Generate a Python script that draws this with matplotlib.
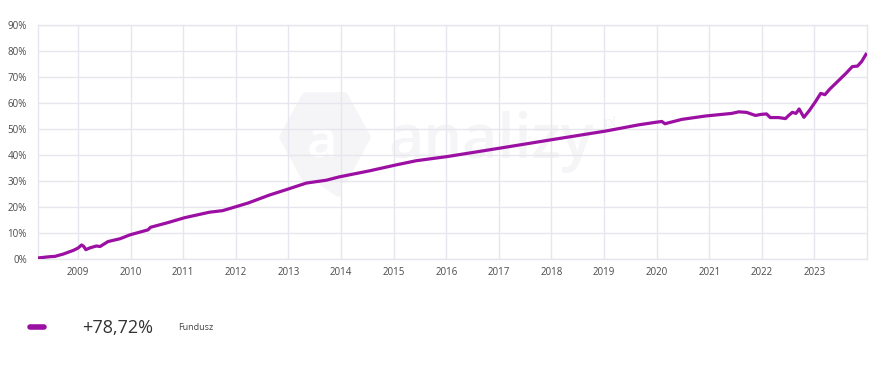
import matplotlib
matplotlib.use('Agg')
import matplotlib.pyplot as plt
from matplotlib.patches import Polygon
from matplotlib.transforms import Affine2D

# fund cumulative return (%), dates as decimal years
dates = [2008.24, 2008.47, 2008.56, 2008.72, 2008.91, 2009.00, 2009.07, 2009.11,
         2009.15, 2009.23, 2009.35, 2009.42, 2009.57, 2009.80, 2009.99, 2010.33,
         2010.38, 2010.71, 2011.03, 2011.50, 2011.75, 2012.00, 2012.23, 2012.64,
         2012.98, 2013.34, 2013.72, 2013.97, 2014.54, 2015.05, 2015.43, 2016.02,
         2017.01, 2018.01, 2019.03, 2019.66, 2019.99, 2020.10, 2020.16, 2020.21,
         2020.48, 2020.93, 2021.43, 2021.56, 2021.71, 2021.88, 2021.98, 2022.09,
         2022.16, 2022.32, 2022.45, 2022.51, 2022.58, 2022.65, 2022.71, 2022.80,
         2022.90, 2023.02, 2023.12, 2023.20, 2023.29, 2023.60, 2023.72, 2023.82,
         2023.90, 2023.98]
fund = [0.4, 0.9, 1.0, 1.9, 3.3, 4.2, 5.4, 4.8,
        3.6, 4.3, 5.0, 4.8, 6.7, 7.8, 9.3, 11.2,
        12.2, 14.0, 15.9, 18.0, 18.6, 20.1, 21.5, 24.6,
        26.8, 29.2, 30.3, 31.6, 33.9, 36.2, 37.8, 39.4,
        42.6, 45.9, 49.2, 51.6, 52.6, 52.9, 52.0, 52.3,
        53.7, 55.0, 56.0, 56.6, 56.4, 55.2, 55.6, 55.8,
        54.4, 54.4, 54.0, 55.2, 56.4, 56.0, 57.7, 54.5,
        57.0, 60.5, 63.7, 63.2, 65.3, 71.4, 74.0, 74.2,
        76.0, 78.72]

years = list(range(2009, 2024))
y_ticks = list(range(0, 100, 10))
total_label = '+78,72%'
series_name = 'Fundusz'

LINE_COLOR = '#9c0fa3'
GRID_COLOR = '#e6e6ef'
TEXT_COLOR = '#4a4a4a'
MARK_COLOR = '#f5f5f7'
W, H = 895, 365

plt.rcParams['font.family'] = ['Open Sans', 'DejaVu Sans']

fig = plt.figure(figsize=(W / 100, H / 100), dpi=100)
ax = fig.add_axes([38 / W, 1 - 259 / H, 829 / W, 234 / H])

# faint watermark (pixel coords from top-left), kept under grid and line
px = Affine2D().scale(1 / W, -1 / H).translate(0, 1) + fig.transFigure
hexagon = [(282, 137), (305, 95), (345, 95), (368, 137), (345, 180), (338, 180),
           (338, 194), (318, 180), (305, 180)]
ax.add_patch(Polygon(hexagon, closed=True, transform=px, color=MARK_COLOR,
                     joinstyle='round', linewidth=4, zorder=0.2))
ax.text(322 / W, 1 - 157 / H, 'a', transform=fig.transFigure, color='white',
        fontsize=38, fontweight='semibold', ha='center', va='baseline', zorder=0.3)
ax.text(388 / W, 1 - 158 / H, 'analizy', transform=fig.transFigure, color=MARK_COLOR,
        fontsize=44, fontweight='semibold', ha='left', va='baseline', zorder=0.2)
ax.text(604 / W, 1 - 127 / H, 'pl', transform=fig.transFigure, color=MARK_COLOR,
        fontsize=11, ha='left', va='baseline', zorder=0.2)

ax.plot(dates, fund, color=LINE_COLOR, linewidth=2.3, solid_joinstyle='round', zorder=3)

ax.set_xlim(2008.24, 2024.0)
ax.set_ylim(0, 90)
ax.set_xticks(years)
ax.set_xticklabels([str(y) for y in years])
ax.set_yticks(y_ticks)
ax.set_yticklabels(['{0}%'.format(v) for v in y_ticks])
ax.grid(True, color=GRID_COLOR, linewidth=1)
ax.set_axisbelow(True)
ax.patch.set_alpha(0)
for s in ax.spines.values():
    s.set_color(GRID_COLOR)
    s.set_linewidth(1)
ax.tick_params(length=0, labelsize=7, colors=TEXT_COLOR)
ax.tick_params(axis='y', pad=8)
ax.tick_params(axis='x', pad=6)

# legend row
fig.add_artist(plt.Line2D([30 / W, 44 / W], [1 - 327 / H] * 2, color=LINE_COLOR,
                          linewidth=4, solid_capstyle='round'))
fig.text(82 / W, 1 - 328 / H, total_label, fontsize=13, color='#333333', va='center')
fig.text(178 / W, 1 - 327 / H, series_name, fontsize=6.5, color='#444444', va='center')

fig.savefig('out.png', dpi=100)
